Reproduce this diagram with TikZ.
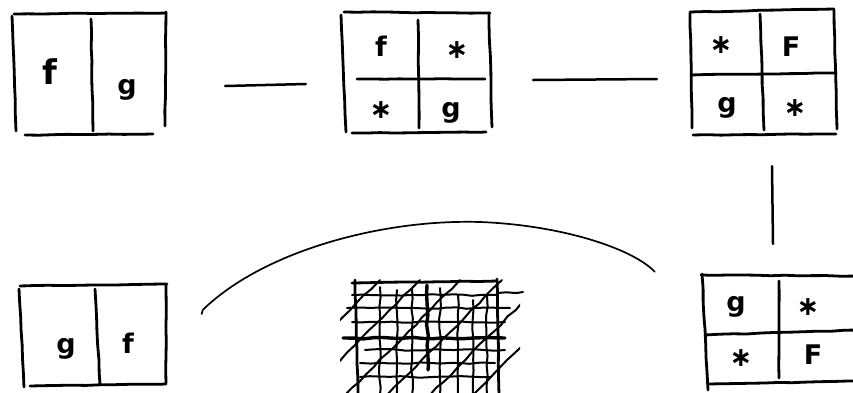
\documentclass[tikz,border=0pt]{standalone}
\usepackage{fontspec}
\setmainfont{DejaVu Sans}
\usetikzlibrary{calc,decorations.pathmorphing}
\begin{document}
\pgfmathsetseed{7}
\begin{tikzpicture}[x=1pt,y=-1pt,
  pen/.style={line width=2.8pt, line cap=round, line join=round, decorate, decoration={random steps,segment length=14pt,amplitude=0.35pt}},
  boxarea/.style={draw=none, inner sep=0pt, rectangle},
  lab/.style={font=\fontsize{27}{27}\selectfont\bfseries, inner sep=0pt},
  biglab/.style={font=\fontsize{34}{34}\selectfont\bfseries, inner sep=0pt},
  star/.style={font=\fontsize{27}{27}\selectfont\bfseries, inner sep=0pt},
  conn/.style={line width=2.5pt, line cap=round},
  curve/.style={line width=1.7pt, line cap=round},
  scrib/.style={line width=2pt, line cap=round, decorate, decoration={random steps,segment length=10pt,amplitude=0.9pt}}]
\clip (0,0) rectangle (853,392);
\fill[white] (0,0) rectangle (853,392);

% areas of the boxes
\node[boxarea, minimum width=154pt, minimum height=122pt] (b1) at (89,74) {};
\node[boxarea, minimum width=150pt, minimum height=122pt] (b2) at (416,73) {};
\node[boxarea, minimum width=146pt, minimum height=124pt] (b3) at (762,72) {};
\node[boxarea, minimum width=160pt, minimum height=110pt] (b5) at (783,330) {};
\node[boxarea, minimum width=147pt, minimum height=101pt] (b4) at (93,335) {};
\node[boxarea, minimum width=146pt, minimum height=112pt] (b6) at (427,338) {};

% box 1
\draw[pen] (14,14) -- (166,13);
\draw[pen] (12,16) -- (16,131);
\draw[pen] (166,12) -- (165,126);
\draw[pen] (25,135) -- (153,134);
\draw[pen] (91,19) -- (93,131);
\node[biglab] (t1a) at (50,72) {f};
\node[lab] (t1b) at (127,90) {g};

% box 2
\draw[pen] (344,12) -- (490,13);
\draw[pen] (341,15) -- (346,132);
\draw[pen] (489,13) -- (492,127);
\draw[pen] (352,133) -- (486,132);
\draw[pen] (418,20) -- (419,128);
\draw[pen] (357,79) -- (485,79);
\node[lab] (t2a) at (381,46) {f};
\node[star] (t2b) at (457,50) {∗};
\node[star] (t2c) at (381,110) {∗};
\node[lab] (t2d) at (451,113) {g};

% box 3
\draw[pen] (690,12) -- (834,9);
\draw[pen] (690,13) -- (692,128);
\draw[pen] (834,10) -- (837,129);
\draw[pen] (693,135) -- (836,134);
\draw[pen] (760,14) -- (764,130);
\draw[pen] (691,75) -- (836,73);
\node[star] (t3a) at (721,45) {∗};
\node[lab] (t3b) at (791,47) {F};
\node[lab] (t3c) at (727,108) {g};
\node[star] (t3d) at (795,108) {∗};

% box 5
\draw[pen] (701,275) -- (860,276);
\draw[pen] (702,274) -- (708,390);
\draw[pen] (779,281) -- (779,378);
\draw[pen] (705,335) -- (860,330);
\draw[pen] (708,384) -- (860,381);
\node[lab] (t5a) at (736,307) {g};
\node[star] (t5b) at (808,307) {∗};
\node[star] (t5c) at (741,358) {∗};
\node[lab] (t5d) at (813,355) {F};

% box 4
\draw[pen] (20,286) -- (167,284);
\draw[pen] (19,289) -- (24,387);
\draw[pen] (166,285) -- (166,383);
\draw[pen] (30,386) -- (166,384);
\draw[pen] (95,289) -- (100,384);
\node[lab] (t4a) at (66,349) {g};
\node[lab] (t4b) at (128,343) {f};

% scribbled box
\draw[pen] (352,283) -- (497,281);
\draw[pen] (355,280) -- (358,395);
\draw[pen] (497,279) -- (499,395);
\draw[scrib] (497,293) -- (523,292);
\foreach \yy/\xa/\xb in {295/352/498, 308/347/510, 322/352/505, 350/365/505, 363/360/495, 377/360/490}
  \draw[scrib] (\xa,\yy) -- (\xb,\yy);
\draw[scrib, line width=3.4pt] (343,338) -- (505,338);
\foreach \xx/\ya in {380/287, 397/290, 412/289, 440/288, 458/295, 473/300, 487/296}
  \draw[scrib] (\xx,\ya) -- (\xx,395);
\draw[scrib, line width=3.4pt] (427,285) -- (428,370);
\begin{scope}
  \clip (340,268) rectangle (520,395);
  \foreach \c in {660,700,740,782,825,868}
    \draw[scrib] (\c-395,395) -- (\c-280,280);
\end{scope}

% connectors
\draw[conn] ($(b1.east)+(59,12)$) -- ($(b2.west)+(-35,11)$);
\draw[conn] ($(b2.east)+(42,7)$) -- ($(b3.west)+(-32,7)$);
\draw[conn] ($(b3.south)+(10,32)$) -- ($(b5.north)+(-10,-31)$);
\coordinate (cs) at ($(b5.north west)+(-48,-3)$);
\coordinate (ce) at ($(b4.east)+(36,-25)$);
\draw[curve] (cs) .. controls (632,248) and (560,225) .. (480,222)
  .. controls (380,219) and (262,252) .. (ce) -- ++(-1,4);
\end{tikzpicture}
\end{document}
